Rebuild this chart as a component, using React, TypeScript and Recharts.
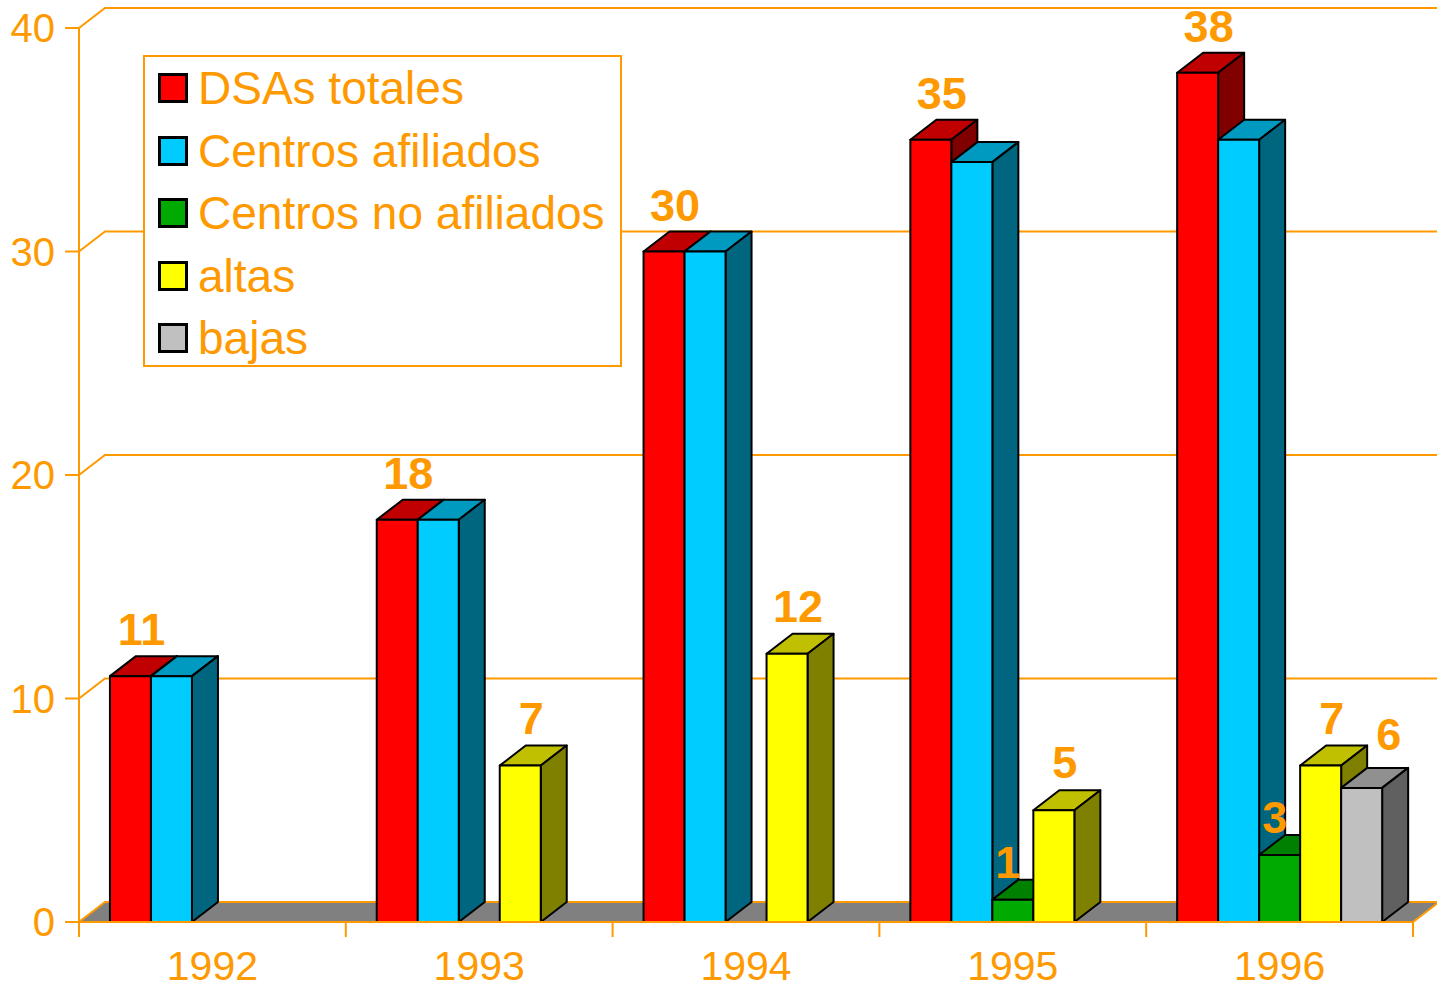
import { BarChart, Bar, XAxis, YAxis, CartesianGrid, Legend, LabelList } from "recharts";

const years = ["1992", "1993", "1994", "1995", "1996"];
const dsasTotales = [11, 18, 30, 35, 38];
const centrosAfiliados = [11, 18, 30, 34, 35];
const centrosNoAfiliados = [0, 0, 0, 1, 3];
const altas = [0, 7, 12, 5, 7];
const bajas = [0, 0, 0, 0, 6];
const yTicks = [0, 10, 20, 30, 40];

const ORANGE = "#FF9900";
const FONT = '"Liberation Sans", Arial, sans-serif';
const WIDTH = 1437;
const HEIGHT = 990;
const Y_AXIS_W = 79;
const X_AXIS_H = 68;
const MARGIN = { top: 28, right: 24, bottom: 0, left: 0 };
const PLOT_BOTTOM = HEIGHT - X_AXIS_H;
const PLOT_W = WIDTH - Y_AXIS_W - MARGIN.right;
// depth of the 3D effect
const DX = 26;
const DY = -20;

// labelDx / labelDy: where the value label sits relative to the bar's front top
const series = [
  { key: "dsas", name: "DSAs totales", front: "#FF0000", top: "#C00000", side: "#800000", label: true, labelDx: 11, labelDy: -31 },
  { key: "afiliados", name: "Centros afiliados", front: "#00CCFF", top: "#0099C0", side: "#006680", label: false, labelDx: 0, labelDy: 0 },
  { key: "noAfiliados", name: "Centros no afiliados", front: "#00AA00", top: "#008000", side: "#005500", label: true, labelDx: -5, labelDy: -22 },
  { key: "altas", name: "altas", front: "#FFFF00", top: "#C0C000", side: "#808000", label: true, labelDx: 11, labelDy: -32 },
  { key: "bajas", name: "bajas", front: "#C0C0C0", top: "#909090", side: "#606060", label: true, labelDx: 27, labelDy: -38 },
];

const data = years.map((year, i) => ({
  year,
  dsas: dsasTotales[i],
  afiliados: centrosAfiliados[i],
  noAfiliados: centrosNoAfiliados[i],
  altas: altas[i],
  bajas: bajas[i],
}));

const makeShape = (s: (typeof series)[number]) => (props: any) => {
  const { x, y, width, height } = props;
  if (!height || height <= 0) return <g />;
  const r = x + width;
  const b = y + height;
  return (
    <g stroke="#000" strokeWidth={2} strokeLinejoin="round">
      <polygon points={`${x},${y} ${x + DX},${y + DY} ${r + DX},${y + DY} ${r},${y}`} fill={s.top} />
      <polygon points={`${r},${y} ${r + DX},${y + DY} ${r + DX},${b + DY} ${r},${b}`} fill={s.side} />
      <rect x={x} y={y} width={width} height={height} fill={s.front} />
    </g>
  );
};

const makeValueLabel = (s: (typeof series)[number]) => (props: any) => {
  const vb = props.viewBox ?? props;
  const x = vb.x ?? props.x;
  const y = vb.y ?? props.y;
  const width = vb.width ?? props.width;
  const { value } = props;
  if (!value) return null;
  return (
    <text
      x={x + width / 2 + s.labelDx}
      y={y + s.labelDy}
      textAnchor="middle"
      fontSize={45}
      fontWeight="bold"
      fill={ORANGE}
      fontFamily={FONT}
    >
      {value}
    </text>
  );
};

const gridLine = (props: any) => {
  const { x1, x2, y1 } = props;
  if (Math.abs(y1 - PLOT_BOTTOM) < 1) {
    return (
      <polygon
        key={props.key}
        points={`${x1},${y1} ${x2},${y1} ${x2 + DX},${y1 + DY} ${x1 + DX},${y1 + DY}`}
        fill="#808080"
        stroke={ORANGE}
        strokeWidth={2}
      />
    );
  }
  return (
    <path
      key={props.key}
      d={`M${x1},${y1} L${x1 + DX},${y1 + DY} L${x2 + DX},${y1 + DY}`}
      fill="none"
      stroke={ORANGE}
      strokeWidth={2}
    />
  );
};

const XTick = (props: any) => {
  const { x, y, payload, index } = props;
  const half = payload?.offset || PLOT_W / years.length / 2;
  return (
    <g>
      <line x1={x - half} y1={y} x2={x - half} y2={y + 15} stroke={ORANGE} strokeWidth={2} />
      {index === years.length - 1 && (
        <line x1={x + half} y1={y} x2={x + half} y2={y + 15} stroke={ORANGE} strokeWidth={2} />
      )}
      <text x={x} y={y + 58} textAnchor="middle" fontSize={41} fill={ORANGE} fontFamily={FONT}>
        {payload.value}
      </text>
    </g>
  );
};

const renderLegend = () => (
  <div
    style={{
      boxSizing: "border-box",
      width: 479,
      height: 312,
      border: `2px solid ${ORANGE}`,
      background: "#fff",
      fontFamily: FONT,
    }}
  >
    {series.map((s) => (
      <div key={s.key} style={{ display: "flex", alignItems: "center", height: 62.5, paddingLeft: 13 }}>
        <span
          style={{
            boxSizing: "border-box",
            width: 30,
            height: 30,
            background: s.front,
            border: "3px solid #000",
            marginRight: 10,
          }}
        />
        <span style={{ color: ORANGE, fontSize: 46, lineHeight: "46px", whiteSpace: "nowrap" }}>{s.name}</span>
      </div>
    ))}
  </div>
);

export default function App() {
  return (
    <div style={{ width: WIDTH, height: HEIGHT, fontFamily: FONT, background: "#fff" }}>
      <style>{"body{margin:0}"}</style>
      <BarChart
        width={WIDTH}
        height={HEIGHT}
        data={data}
        margin={MARGIN}
        barGap={0}
        barCategoryGap="11.6%"
      >
        <CartesianGrid vertical={false} horizontal={gridLine} />
        <XAxis
          dataKey="year"
          height={X_AXIS_H}
          axisLine={{ stroke: ORANGE, strokeWidth: 2 }}
          tickLine={false}
          tickSize={0}
          tickMargin={0}
          tick={<XTick />}
          interval={0}
        />
        <YAxis
          width={Y_AXIS_W}
          domain={[0, 40]}
          ticks={yTicks}
          axisLine={{ stroke: ORANGE, strokeWidth: 2 }}
          tickLine={{ stroke: ORANGE, strokeWidth: 2 }}
          tickSize={14}
          tickMargin={10}
          tick={{ fill: ORANGE, fontSize: 40, fontFamily: FONT }}
        />
        <Legend
          layout="vertical"
          align="center"
          verticalAlign="middle"
          wrapperStyle={{ left: 143, top: 55, width: 479 }}
          content={renderLegend}
        />
        {series.map((s) => (
          <Bar
            key={s.key}
            dataKey={s.key}
            name={s.name}
            fill={s.front}
            shape={makeShape(s)}
            isAnimationActive={false}
          >
            {s.label && <LabelList dataKey={s.key} content={makeValueLabel(s)} />}
          </Bar>
        ))}
      </BarChart>
    </div>
  );
}
